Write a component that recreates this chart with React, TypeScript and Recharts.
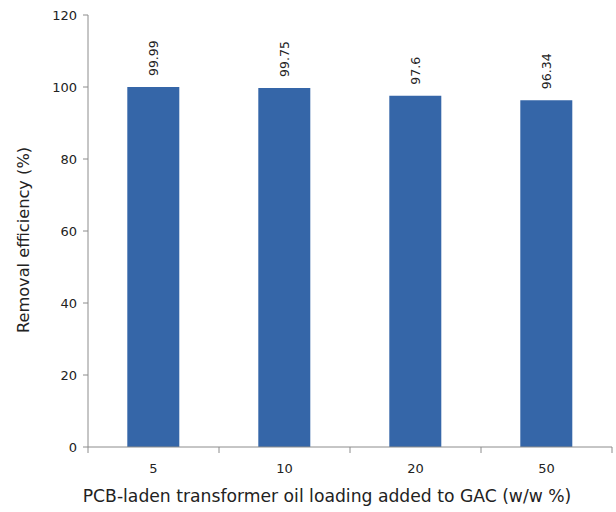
import React from "react";
import { BarChart, Bar, XAxis, YAxis, LabelList } from "recharts";

const loadings = ["5", "10", "20", "50"];
const efficiency = [99.99, 99.75, 97.6, 96.34];
const yTicks = [0, 20, 40, 60, 80, 100, 120];

const data = loadings.map((l, i) => ({ loading: l, eff: efficiency[i] }));

const FONT = "'DejaVu Sans', sans-serif";
const AXIS = "#8c8c8c";

function XTick(props: any) {
  const { x, y, payload, index, width, visibleTicksCount } = props;
  const band = width / (visibleTicksCount || loadings.length);
  const top = y - 8;
  return (
    <g>
      <line x1={x - band / 2} x2={x - band / 2} y1={top} y2={top + 6} stroke={AXIS} />
      {index === loadings.length - 1 && (
        <line x1={x + band / 2} x2={x + band / 2} y1={top} y2={top + 6} stroke={AXIS} />
      )}
      <text x={x} y={y + 18} textAnchor="middle" fontSize={13} fill="#222" fontFamily={FONT}>
        {payload.value}
      </text>
    </g>
  );
}

function ValueLabel(props: any) {
  const { x, y, width, value } = props;
  const cx = x + width / 2;
  const cy = y - 11;
  return (
    <text
      x={cx}
      y={cy}
      transform={`rotate(-90 ${cx} ${cy})`}
      textAnchor="start"
      dominantBaseline="central"
      fontSize={12.5}
      fill="#222"
      fontFamily={FONT}
    >
      {value}
    </text>
  );
}

function XTitle(props: any) {
  const { viewBox } = props;
  const cx = viewBox.x + viewBox.width / 2 - 23;
  return (
    <text x={cx} y={502} textAnchor="middle" fontSize={17.2} fill="#222" fontFamily={FONT}>
      PCB-laden transformer oil loading added to GAC (w/w %)
    </text>
  );
}

function YTitle(props: any) {
  const { viewBox } = props;
  const cy = viewBox.y + viewBox.height / 2 + 9;
  const cx = 23;
  return (
    <text
      x={cx}
      y={cy}
      transform={`rotate(-90 ${cx} ${cy})`}
      textAnchor="middle"
      dominantBaseline="central"
      fontSize={16.2}
      fill="#222"
      fontFamily={FONT}
    >
      Removal efficiency (%)
    </text>
  );
}

export default function App() {
  return (
    <div style={{ position: "absolute", left: 0, top: 0, width: 616, height: 512, background: "#fff" }}>
      <BarChart
        width={616}
        height={512}
        data={data}
        margin={{ top: 15, right: 4, left: 0, bottom: 0 }}
        barCategoryGap="30%"
      >
        <XAxis
          dataKey="loading"
          height={65}
          axisLine={{ stroke: AXIS }}
          tickLine={false}
          tick={<XTick />}
          interval={0}
          label={<XTitle />}
        />
        <YAxis
          width={88}
          domain={[0, 120]}
          ticks={yTicks}
          interval={0}
          axisLine={{ stroke: AXIS }}
          tickLine={{ stroke: AXIS }}
          tickSize={5}
          tickMargin={6}
          tick={{ fontSize: 13, fill: "#222", fontFamily: FONT }}
          label={<YTitle />}
        />
        <Bar dataKey="eff" fill="#3566a8" isAnimationActive={false}>
          <LabelList dataKey="eff" content={<ValueLabel />} />
        </Bar>
      </BarChart>
    </div>
  );
}
